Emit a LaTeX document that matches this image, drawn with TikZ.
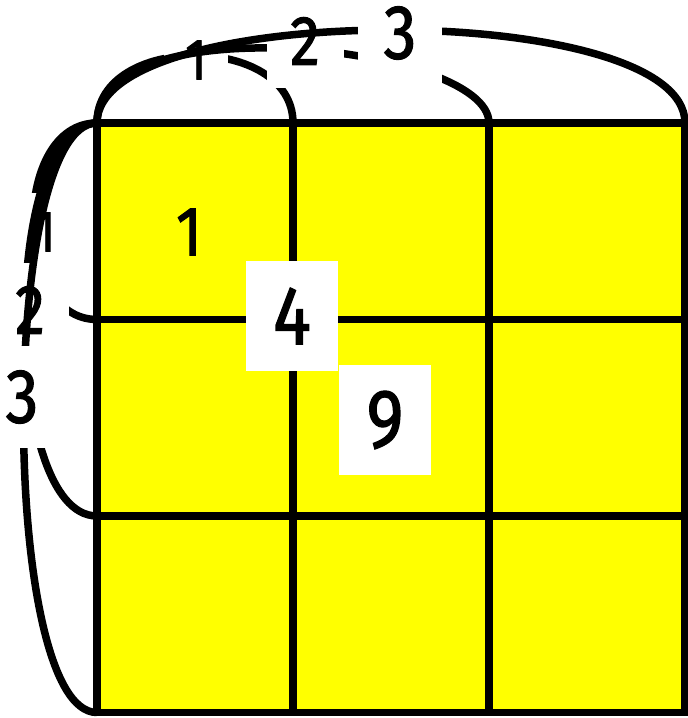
\documentclass[tikz,border=0pt]{standalone}
\usepackage{fontspec}
\setmainfont{Fira Sans}[FakeStretch=0.85,FakeBold=1.5]
\definecolor{cellyellow}{RGB}{255,255,0}

\tikzset{
  cell/.style={draw, fill=cellyellow, line width=7.5pt, outer sep=0pt, inner sep=0pt,
    minimum width=196pt, minimum height=196.5pt},
  brace/.style={line width=7.5pt},
  num/.style={inner sep=0pt, font=\fontsize{#1}{#1}\selectfont},
  lab/.style={fill=white, inner sep=0pt, font=\fontsize{#1}{#1}\selectfont,
    minimum width={1.1*#1}, minimum height={1.33*#1}}
}

\begin{document}
\begin{tikzpicture}[x=1pt,y=-1pt]
\useasboundingbox (0,0) rectangle (688,718);
\foreach \i in {1,2,3}
  \foreach \j in {1,2,3}
    \node[cell] (c\i\j) at ({97+196*(\j-0.5)},{123+196.5*(\i-0.5)}) {};
\node[num=70] (n1) at (189,232) {1};

\draw[brace] (c11.north west) .. controls +(0,-90) and +(0,-90) .. (c11.north east);
\node[lab=58] (t1) at (196,60) {1};
\draw[brace] (c11.north west) .. controls +(0,-120) and +(0,-78) .. (c12.north east);
\node[lab=70] (t2) at (305,41) {2};
\draw[brace] (c11.north west) .. controls +(0,-124) and +(0,-124) .. (c13.north east);
\node[lab=77] (t3) at (400,33) {3};

\draw[brace] (c11.north west) .. controls +(-85,0) and +(-85,0) .. (c11.south west);
\node[lab=58] (l1) at (45,232) {1};
\draw[brace] (c11.north west) .. controls +(-96,0) and +(-96,0) .. (c21.south west);
\node[lab=70] (l2) at (30,310) {2};
\draw[brace] (c11.north west) .. controls +(-98,0) and +(-98,0) .. (c31.south west);
\node[lab=77] (l3) at (22,397) {3};

\node[lab=83] (n4) at (292,316) {4};
\node[lab=83] (n9) at (385,420) {9};
\end{tikzpicture}
\end{document}
